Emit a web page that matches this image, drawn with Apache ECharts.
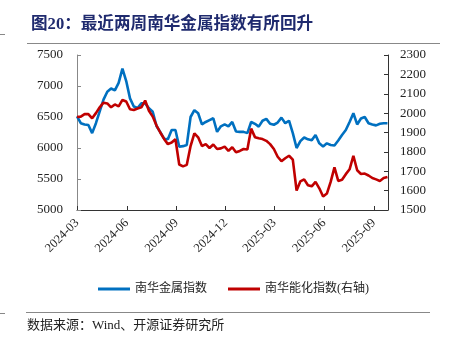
<!DOCTYPE html>
<html>
<head>
<meta charset="utf-8">
<script src="https://cdn.jsdelivr.net/npm/echarts@6/dist/echarts.min.js"></script>
<style>
html,body{margin:0;padding:0;background:#fff;}
#c{width:456px;height:340px;}
</style>
</head>
<body>
<div id="c"></div>
<script>
// ---- data (weekly, Fridays from 2024-03-01 to 2025-09-26) ----
var startDate = [2024, 2, 1]; // 2024-03-01
var weekCount = 83;
var metalIndex = [
  6510, 6400, 6380, 6370, 6240, 6400, 6590, 6780, 6908, 6960,
  6930, 7050, 7280, 7080, 6800, 6670, 6645, 6720, 6720, 6640,
  6585, 6355, 6255, 6150, 6140, 6290, 6290, 6020, 6030, 6050,
  6500, 6610, 6560, 6380, 6420, 6450, 6480, 6260, 6350, 6380,
  6350, 6420, 6265, 6260, 6260, 6240, 6420, 6390, 6345, 6440,
  6470, 6390, 6375, 6410, 6490, 6400, 6440, 6240, 6000, 6110,
  6170, 6140, 6125, 6210, 6075, 6025, 6075, 6048, 6040, 6120,
  6210, 6290, 6420, 6560, 6380, 6475, 6500, 6400, 6380, 6365,
  6390, 6400, 6400
];
var energyIndex = [
  1980, 1982, 1995, 1995, 1973, 2000, 2030, 2054, 2050, 2030,
  2045, 2035, 2068, 2060, 2020, 2016, 2024, 2030, 2065, 2012,
  1982, 1936, 1900, 1867, 1840, 1848, 1865, 1735, 1725, 1733,
  1830, 1896, 1875, 1830, 1840, 1820, 1838, 1815, 1818, 1827,
  1805, 1824, 1798, 1805, 1815, 1812, 1920, 1876, 1870, 1866,
  1857, 1840, 1815, 1775, 1752, 1767, 1780, 1760, 1600, 1648,
  1658, 1628, 1622, 1645, 1612, 1570, 1585, 1645, 1720, 1650,
  1656, 1685, 1710, 1780, 1705, 1686, 1688, 1678, 1665, 1658,
  1650, 1665, 1670
];
var tickMonths = ['2024-03', '2024-06', '2024-09', '2024-12', '2025-03', '2025-06', '2025-09'];
var endDate = '2025-09-27';
var leftTicks = [5000, 5500, 6000, 6500, 7000, 7500];
var rightTicks = [1500, 1600, 1700, 1800, 1900, 2000, 2100, 2200, 2300];
var seriesNames = ['南华金属指数', '南华能化指数(右轴)'];
var titleText = '图20：最近两周南华金属指数有所回升';
var sourceText = '数据来源：Wind、开源证券研究所';

// ---- x as day offset from start ----
var DAY = 86400000;
var t0 = Date.UTC(startDate[0], startDate[1], startDate[2]);
function dayOf(y, m, d) { return Math.round((Date.UTC(y, m, d) - t0) / DAY); }
var xDays = [];
for (var i = 0; i < weekCount; i++) xDays.push(i * 7);
var tickDays = tickMonths.map(function (s) { var p = s.split('-'); return dayOf(+p[0], +p[1] - 1, 1); });
var endP = endDate.split('-');
var maxDay = dayOf(+endP[0], +endP[1] - 1, +endP[2]);
var labelMap = {};
tickDays.forEach(function (d, k) { labelMap[d] = tickMonths[k]; });
var metalData = metalIndex.map(function (v, i) { return [xDays[i], v]; });
var energyData = energyIndex.map(function (v, i) { return [xDays[i], v]; });

var serif = 'Liberation Serif, Noto Sans CJK SC, serif';
var plain = function (v) { return String(v); };
var chart = echarts.init(document.getElementById('c'), null, { renderer: 'canvas' });
chart.setOption({
  animation: false,
  backgroundColor: '#fff',
  title: {
    text: titleText,
    left: 26, top: 11,
    textStyle: { fontSize: 16.6, fontWeight: 'bold', color: '#1f2a6e', fontFamily: serif }
  },
  grid: { left: 77, right: 68, top: 55, bottom: 130, containLabel: false },
  legend: {
    left: 93, top: 278,
    icon: 'rect', itemWidth: 32, itemHeight: 3, itemGap: 21,
    textStyle: { fontSize: 12, color: '#222', fontFamily: serif },
    data: seriesNames
  },
  xAxis: {
    type: 'value',
    min: 0,
    max: maxDay,
    axisLine: { lineStyle: { color: '#333', width: 1 } },
    axisTick: { show: true, inside: true, length: 4, customValues: tickDays, lineStyle: { color: '#333' } },
    axisLabel: {
      customValues: tickDays,
      rotate: 45, margin: 11,
      fontSize: 12.5, color: '#222', fontFamily: serif,
      formatter: function (v) { return labelMap[v] || ''; }
    },
    splitLine: { show: false }
  },
  yAxis: [
    {
      type: 'value', min: leftTicks[0], max: leftTicks[leftTicks.length - 1], interval: 500,
      axisLine: { show: true, lineStyle: { color: '#888' } },
      axisTick: { show: true, inside: true, length: 4, lineStyle: { color: '#888' } },
      axisLabel: { fontSize: 13, color: '#222', fontFamily: serif, margin: 14, formatter: plain },
      splitLine: { show: false }
    },
    {
      type: 'value', min: rightTicks[0], max: rightTicks[rightTicks.length - 1], interval: 100,
      position: 'right',
      axisLine: { show: true, lineStyle: { color: '#333' } },
      axisTick: { show: true, inside: true, length: 4, lineStyle: { color: '#333' } },
      axisLabel: { fontSize: 13, color: '#222', fontFamily: serif, margin: 12, formatter: plain },
      splitLine: { show: false }
    }
  ],
  series: [
    {
      name: seriesNames[0], type: 'line', yAxisIndex: 0, data: metalData,
      showSymbol: false, symbol: 'none',
      lineStyle: { color: '#0070c0', width: 2.6 }, itemStyle: { color: '#0070c0' }
    },
    {
      name: seriesNames[1], type: 'line', yAxisIndex: 1, data: energyData,
      showSymbol: false, symbol: 'none',
      lineStyle: { color: '#c00000', width: 2.6 }, itemStyle: { color: '#c00000' }
    }
  ],
  graphic: [
    { type: 'line', shape: { x1: 0, y1: 34.5, x2: 5, y2: 34.5 }, style: { stroke: '#888', lineWidth: 1 } },
    { type: 'line', shape: { x1: 27, y1: 43.5, x2: 440, y2: 43.5 }, style: { stroke: '#888', lineWidth: 1 } },
    { type: 'line', shape: { x1: 0, y1: 313.5, x2: 5, y2: 313.5 }, style: { stroke: '#888', lineWidth: 1 } },
    { type: 'line', shape: { x1: 26, y1: 312.5, x2: 430, y2: 312.5 }, style: { stroke: '#888', lineWidth: 1 } },
    { type: 'text', left: 27, top: 319, style: { text: sourceText, fontSize: 13, fill: '#222', fontFamily: serif } }
  ]
});
</script>
</body>
</html>
